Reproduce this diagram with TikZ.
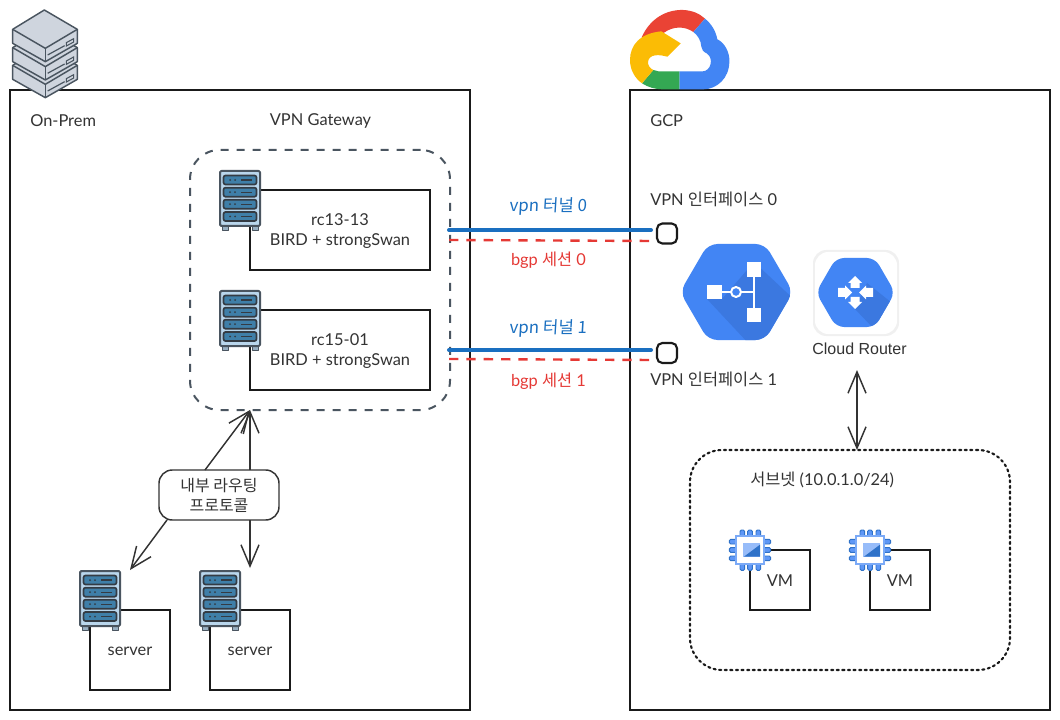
\documentclass[tikz,border=0pt]{standalone}
\usepackage{fontspec}
\setmainfont{Lato}
\newfontfamily\kr{Noto Sans CJK KR}
\newfontfamily\krh[FakeSlant=0.06]{Noto Sans CJK KR}
\newfontfamily\ar{Liberation Sans}
\usetikzlibrary{arrows.meta}
\newcommand{\dnshift}[1]{\raisebox{0pt}[\dimexpr\height+1.5pt\relax][\depth]{#1}}
\definecolor{ink}{HTML}{1A1A1A}
\definecolor{txt}{HTML}{333333}
\definecolor{gline}{HTML}{4A5560}
\definecolor{stack}{HTML}{CFD5DE}
\definecolor{rackbody}{HTML}{B9D6EC}
\definecolor{slot}{HTML}{3F7FA8}
\definecolor{gblue}{HTML}{4285F4}
\definecolor{gblued}{HTML}{3B78E0}
\definecolor{pinb}{HTML}{2F72C8}
\definecolor{tunnel}{HTML}{1A6FC0}
\definecolor{bgpred}{HTML}{E53935}
\definecolor{gred}{HTML}{EA4335}
\definecolor{gyellow}{HTML}{FBBC05}
\definecolor{ggreen}{HTML}{34A853}
\tikzset{
  x=0.75pt,y=-0.75pt,
  boxst/.style={draw=ink,line width=1.5pt,fill=white,inner sep=0pt,align=center,text=txt,font=\fontsize{12.3}{15}\selectfont},
  zone/.style={draw=ink,line width=1.5pt,inner sep=0pt},
  gwbox/.style={draw=gline,line width=1.5pt,dash pattern=on 6pt off 6pt,rounded corners=22pt,inner sep=0pt},
  subnetbox/.style={draw=ink,line width=1.6pt,dash pattern=on 1.6pt off 2.6pt,line cap=round,rounded corners=24pt,inner sep=0pt},
  lab/.style={text=txt,inner sep=0pt,font=\fontsize{12.3}{14}\selectfont},
  tun/.style={draw=tunnel,line width=3pt,line cap=round},
  bgp/.style={draw=bgpred,line width=1.8pt,dash pattern=on 7pt off 6pt},
  port/.style={draw=ink,line width=1.6pt,rounded corners=4pt,minimum size=15pt,inner sep=0pt,fill=white},
  oarrow/.style={draw=txt,line width=1.1pt,-{Straight Barb[length=16pt,width=13.5pt]}},
  darrow/.style={draw=txt,line width=1.1pt,{Straight Barb[length=16pt,width=13.5pt]}-{Straight Barb[length=16pt,width=13.5pt]}},
  rack/.pic={
    \begin{scope}[line join=round]
      \draw[gline,line width=.7pt,fill=rackbody!70!gline] (2,55) rectangle (8,59);
      \draw[gline,line width=.7pt,fill=rackbody!70!gline] (32,55) rectangle (38,59);
      \draw[gline,line width=1.5pt,fill=rackbody,rounded corners=1pt] (0,0) rectangle (40,55);
      \foreach \yy in {4.5,16.7,28.7,41}{
        \draw[gline!70!black,line width=1.3pt,fill=slot,rounded corners=1.5pt] (3.5,\yy) rectangle (36.5,\yy+9);
        \draw[gline!70!black,line width=1pt] (21,\yy+4.5) -- (32,\yy+4.5);
        \fill[gline!70!black] (10,\yy+4.5) circle (1);
        \fill[gline!70!black] (15,\yy+4.5) circle (1);
      }
    \end{scope}
  },
  stacklayer/.pic={
    \draw[gline,line width=1.1pt,fill=stack,line join=round] (133,30) -- (232,88) -- (232,130) -- (136,185) -- (38,130) -- (38,88) -- cycle;
    \draw[gline,line width=1.1pt,line join=round] (38,88) -- (136,145) -- (232,88);
    \draw[gline,line width=1.1pt] (136,145) -- (136,185);
    \draw[gline,line width=.9pt] (143,165) -- (194,137);
    \draw[gline,line width=.8pt] (199,128) -- (221,116) -- (221,126) -- (199,138) -- cycle;
  },
  chip/.pic={
    \foreach \p in {67,90,115}{
      \draw[pinb,line width=.7pt,fill=gblue!85!white,rounded corners=1pt] (\p-7,60) rectangle (\p+7,80);
      \draw[pinb,line width=.7pt,fill=gblue!85!white,rounded corners=1pt] (\p-7,160) rectangle (\p+7,181);
    }
    \foreach \p in {95,120,145}{
      \draw[pinb,line width=.7pt,fill=gblue!85!white,rounded corners=1pt] (28,\p-7) rectangle (50,\p+7);
      \draw[pinb,line width=.7pt,fill=gblue!85!white,rounded corners=1pt] (131,\p-7) rectangle (152,\p+7);
    }
    \fill[white] (46,76) rectangle (135,164);
    \draw[gblue!70!white,line width=1.6pt,fill=white] (49,79) rectangle (132,161);
    \fill[gblue!55!white] (70,100) rectangle (120,142);
    \fill[pinb] (72,140) -- (120,104) -- (120,140) -- cycle;
  },
}
\begin{document}
\begin{tikzpicture}
\useasboundingbox (0,0) rectangle (1060,720);
\fill[white] (0,0) rectangle (1060,720);
% zones
\node[zone,minimum width=345pt,minimum height=465pt] (onprem) at (240,400) {};
\node[zone,minimum width=315pt,minimum height=465pt] (gcp) at (840,400) {};
\node[gwbox,minimum width=195pt,minimum height=195pt] (gw) at (320,280) {};
\node[subnetbox,minimum width=240pt,minimum height=165pt] (subnet) at (850,560) {};
% boxes
\node[boxst,minimum width=135pt,minimum height=60pt] (rc13) at (340,230) {\dnshift{rc13-13}\\BIRD + strongSwan};
\node[boxst,minimum width=135pt,minimum height=60pt] (rc15) at (340,350) {\dnshift{rc15-01}\\BIRD + strongSwan};
\node[boxst,minimum width=60pt,minimum height=60pt] (srv1) at (130,650) {\dnshift{server}};
\node[boxst,minimum width=60pt,minimum height=60pt] (srv2) at (250,650) {\dnshift{server}};
\node[boxst,minimum width=45pt,minimum height=45pt] (vm1) at (780,580) {\dnshift{VM}};
\node[boxst,minimum width=45pt,minimum height=45pt] (vm2) at (900,580) {\dnshift{VM}};
% icons
\pic at (220,171) {rack};
\pic at (220,291) {rack};
\pic at (80,571) {rack};
\pic at (200,571) {rack};
\pic[scale=1/3] at (720,510) {chip};
\pic[scale=1/3] at (840,510) {chip};
\pic[scale=1/3] at (0,36) {stacklayer};
\pic[scale=1/3] at (0,18.3) {stacklayer};
\pic[scale=1/3] at (0,0) {stacklayer};
% Google Cloud logo
\begin{scope}[shift={(620,0)},scale=1/3,line join=round]
  \fill[white] (60,240) -- (178,240) -- (178,150) -- (120,120) -- cycle;
  % red
  \fill[gred] (65,112) .. controls (90,55) and (140,28) .. (190,30) .. controls (215,31) and (238,40) .. (255,56) -- (220,96) .. controls (195,78) and (160,78) .. (132,98) -- cycle;
  % blue
  \fill[gblue] (178,214) -- (248,214) .. controls (272,214) and (283,175) .. (260,160) .. controls (250,155) and (245,150) .. (244,140) .. controls (243,120) and (232,105) .. (220,96) -- (255,56) .. controls (275,72) and (288,95) .. (292,118) .. controls (315,128) and (330,160) .. (328,185) .. controls (328,235) and (290,268) .. (250,268) -- (178,268) -- cycle;
  % green
  \fill[ggreen] (100,210) .. controls (110,214) and (120,215) .. (130,214) -- (178,214) -- (178,268) -- (130,268) .. controls (105,268) and (85,262) .. (66,250) -- cycle;
  % yellow
  \fill[gyellow] (124,94) .. controls (60,100) and (30,135) .. (30,180) .. controls (30,210) and (45,235) .. (66,250) -- (100,210) .. controls (78,200) and (78,170) .. (105,166) .. controls (120,164) and (132,168) .. (142,170) -- (182,130) -- cycle;
\end{scope}
% network hexagon
\begin{scope}
  \clip[rounded corners=7pt] (680,292) -- (708,244) -- (765,244) -- (793,292) -- (765,340) -- (708,340) -- cycle;
  \fill[gblue] (676,240) rectangle (797,345);
  \fill[gblued] (754,262) -- (800,305) -- (760,345) -- (750,345) -- (707,299) -- (722,299) -- cycle;
\end{scope}
\draw[white,line width=1.5pt] (722,292) -- (754,292);
\draw[white,line width=1.5pt] (754,270) -- (754,315);
\fill[white] (707,285) rectangle (722,299);
\fill[white] (747,262) rectangle (761,277);
\fill[white] (747,308) rectangle (761,322);
\draw[white,line width=1.5pt,fill=gblue] (736,292) circle (5);
% router tile
\fill[black!6,rounded corners=10pt] (813,250) rectangle (899,336);
\fill[white,rounded corners=10pt] (815,252) rectangle (897,334);
\begin{scope}
  \clip[rounded corners=6pt] (816,292.5) -- (836,258) -- (875,258) -- (895,292.5) -- (875,327) -- (836,327) -- cycle;
  \fill[gblue] (812,255) rectangle (899,330);
  \fill[gblued] (867,283) -- (897,307) -- (875,330) -- (855,309) -- cycle;
\end{scope}
\fill[white] (855,276) -- (862,283) -- (859.5,283) -- (859.5,288) -- (850.5,288) -- (850.5,283) -- (848,283) -- cycle;
\fill[white] (855,309) -- (862,302) -- (859.5,302) -- (859.5,297) -- (850.5,297) -- (850.5,302) -- (848,302) -- cycle;
\fill[white] (852,292.5) -- (845,285.5) -- (845,288) -- (838,288) -- (838,297) -- (845,297) -- (845,299.5) -- cycle;
\fill[white] (859,292.5) -- (866,285.5) -- (866,288) -- (873,288) -- (873,297) -- (866,297) -- (866,299.5) -- cycle;
% ports and tunnels
\node[port] (port0) at (667,233.5) {};
\node[port] (port1) at (667,353) {};
\coordinate (t0a) at (449,230);
\coordinate (t0b) at (651,230);
\coordinate (b0a) at (449,240);
\coordinate (b0b) at (652,241);
\coordinate (t1a) at (449,350);
\coordinate (t1b) at (651,350);
\coordinate (b1a) at (449,359);
\coordinate (b1b) at (652,360);
\draw[tun] (t0a) -- (t0b);
\draw[bgp] (b0a) -- (b0b);
\draw[tun] (t1a) -- (t1b);
\draw[bgp] (b1a) -- (b1b);
% labels
\node[lab,anchor=west] (lonprem) at (30,120.5) {On-Prem};
\node[lab] (lgw) at (320.5,121) {VPN Gateway};
\node[lab,anchor=west] (lgcp) at (650,120.5) {GCP};
\node[lab,anchor=west] (lif0) at (650,199.5) {VPN {\kr 인터페이스} 0};
\node[lab,anchor=west] (lif1) at (650,379.5) {VPN {\kr 인터페이스} 1};
\node[lab,anchor=west] (lsub) at (750,479.5) {{\kr 서브넷} (10.0.1.0/24)};
\node[lab,text=tunnel,font=\fontsize{12.6}{14}\selectfont] (lt0) at (548,206.5) {\krh vpn 터널 0};
\node[lab,text=tunnel,font=\fontsize{12.6}{14}\selectfont] (lt1) at (548,328.5) {\krh vpn 터널 1};
\node[lab,text=bgpred] (lb0) at (548.5,260) {bgp {\kr 세션} 0};
\node[lab,text=bgpred] (lb1) at (548.5,381) {bgp {\kr 세션} 1};
\node[lab,font=\ar\fontsize{12}{14}\selectfont] (lcr) at (859.5,349) {Cloud Router};
% routing callout
\node[draw=txt,line width=1.1pt,fill=white,rounded corners=10pt,minimum width=90pt,minimum height=37.5pt,inner sep=0pt,align=center,text=txt,font=\kr\fontsize{12}{15}\selectfont] (rp) at (219,495) {내부 라우팅\\프로토콜};
\coordinate (gwin) at (250,410);
\coordinate (rpa) at (205,470);
\coordinate (rpb) at (250,470);
\coordinate (rpc) at (167,520);
\coordinate (rpd) at (250,520);
\coordinate (s1in) at (130,570);
\coordinate (s2in) at (250,568);
\coordinate (crin) at (857,370);
\coordinate (subin) at (857,450);
\draw[oarrow] (rpa) -- (gwin);
\draw[oarrow] (rpb) -- (gwin);
\draw[oarrow] (rpc) -- (s1in);
\draw[oarrow] (rpd) -- (s2in);
\draw[darrow] (crin) -- (subin);
\end{tikzpicture}
\end{document}
